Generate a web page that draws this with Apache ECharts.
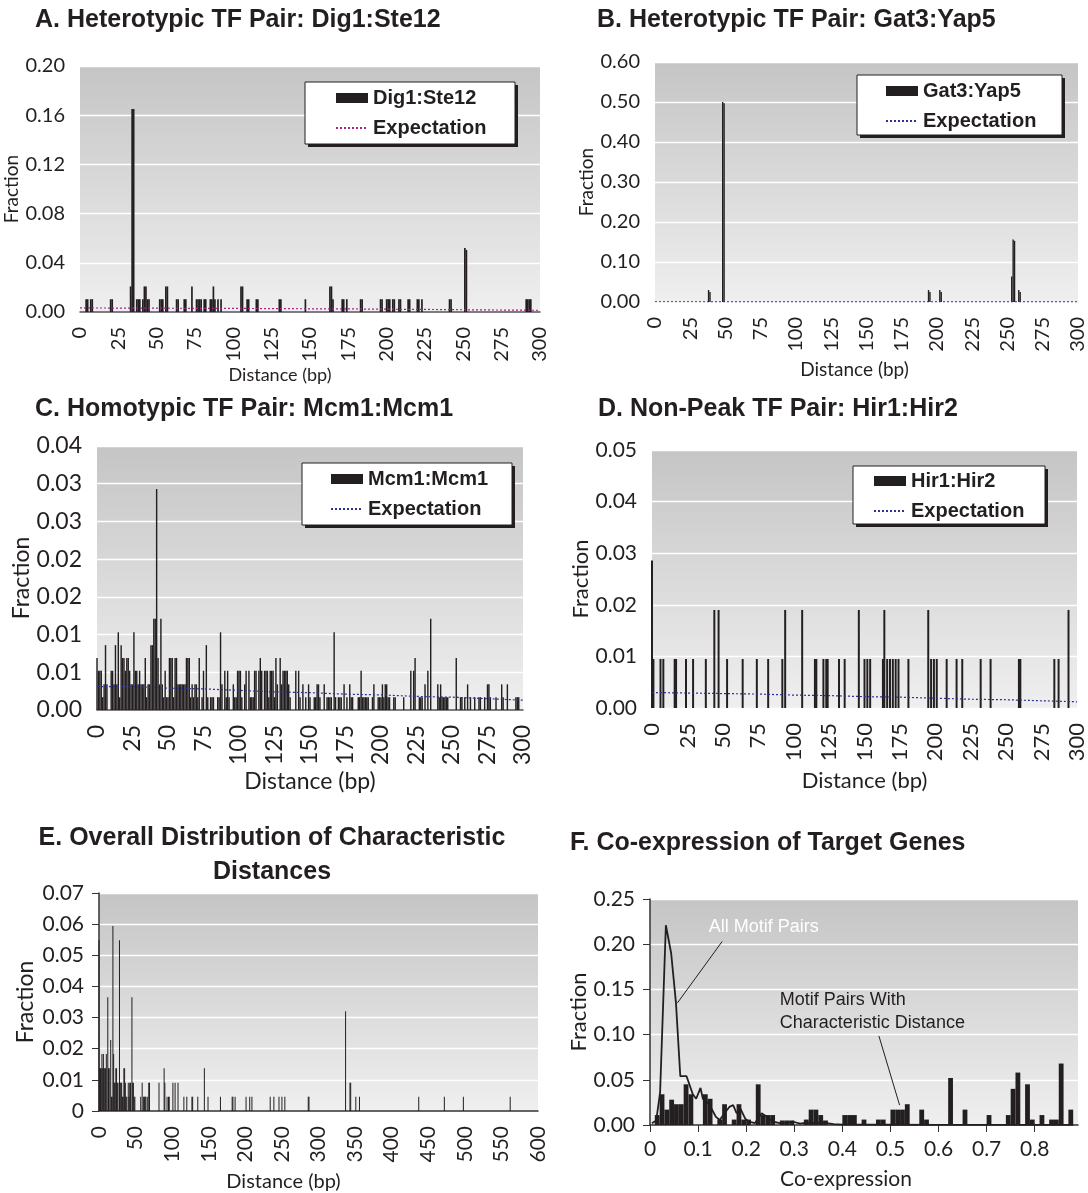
<!DOCTYPE html>
<html><head><meta charset="utf-8">
<script src="https://cdn.jsdelivr.net/npm/echarts@6/dist/echarts.min.js"></script>
<style>html,body{margin:0;padding:0;background:#fff}#c{width:1088px;height:1193px}</style>
</head><body><div id="c"></div>
<script>
// ---------- data ----------
const expX = [0,25,50,75,100,125,150,175,200,225,250,275,300];

const aDist = [4,5,7,8,20,21,33,34,35,37,38,39,41,42,43,44,45,52,53,54,56,57,63,64,68,69,73,76,77,78,79,81,82,85,86,87,88,90,92,105,106,109,110,115,116,130,131,147,163,164,165,171,172,174,183,184,196,197,200,201,202,204,205,208,209,214,215,220,221,223,241,242,251,252,291,292,293,294];
const aFrac = [0.0104,0.0104,0.0104,0.0104,0.0104,0.0104,0.0208,0.165,0.165,0.0104,0.0104,0.0104,0.0104,0.0208,0.0208,0.0104,0.0104,0.0104,0.0104,0.0104,0.0208,0.0208,0.0104,0.0104,0.0104,0.0104,0.0208,0.0104,0.0104,0.0104,0.0104,0.0104,0.0104,0.0104,0.0104,0.0208,0.0104,0.0104,0.0104,0.0208,0.0208,0.0104,0.0104,0.0104,0.0104,0.0104,0.0104,0.0104,0.0208,0.0208,0.0104,0.0104,0.0104,0.0104,0.0104,0.0104,0.0104,0.0104,0.0104,0.0104,0.0104,0.0104,0.0104,0.0104,0.0104,0.0104,0.0104,0.0104,0.0104,0.0104,0.0104,0.0104,0.0521,0.0505,0.0104,0.0104,0.0104,0.0104];
const expA = [0.0033,0.0032,0.0031,0.0030,0.0029,0.0028,0.0026,0.0025,0.0023,0.0021,0.0018,0.0016,0.0014];

const bDist = [38,39,48,49,194,195,202,203,253,254,255,258,259];
const bFrac = [0.030,0.025,0.500,0.497,0.030,0.025,0.030,0.025,0.064,0.156,0.153,0.030,0.025];
const expB = [0.0006,0.0006,0.0005,0.0005,0.0005,0.0004,0.0004,0.0004,0.0004,0.0003,0.0003,0.0003,0.0003];

const cDist = [0,1,2,3,4,5,6,7,10,11,12,13,14,15,16,17,18,19,20,21,22,23,24,25,26,27,28,29,30,31,32,33,34,35,36,37,38,39,40,41,42,43,44,45,46,47,48,49,50,51,52,53,54,55,56,57,58,59,60,61,62,63,64,65,66,67,68,69,70,71,72,74,75,77,78,80,81,82,85,86,87,88,90,91,92,93,96,97,98,99,100,101,102,104,105,107,108,109,110,111,112,114,115,116,118,119,120,121,122,123,124,125,126,127,129,130,131,132,133,134,135,136,140,142,143,145,147,149,150,153,154,155,156,157,160,162,163,164,165,167,168,170,171,172,174,176,178,179,180,184,185,186,187,188,189,190,191,194,195,198,199,200,201,202,203,204,205,206,209,210,216,221,223,224,227,228,229,231,233,235,240,241,242,243,244,245,246,247,253,256,257,259,261,263,266,269,270,273,275,276,277,281,285,286,289,295,296,297];
const cFrac = [0.0069,0.0052,0.0052,0.0052,0.0017,0.0034,0.0086,0.0034,0.0052,0.0052,0.0034,0.0086,0.0034,0.0103,0.0017,0.0086,0.0069,0.0069,0.0052,0.0069,0.0069,0.0052,0.0034,0.0034,0.0103,0.0052,0.0052,0.0034,0.0052,0.0034,0.0034,0.0034,0.0069,0.0017,0.0034,0.0034,0.0086,0.0086,0.0121,0.0121,0.0293,0.0069,0.0034,0.0121,0.0034,0.0017,0.0052,0.0017,0.0017,0.0069,0.0069,0.0069,0.0017,0.0069,0.0069,0.0034,0.0034,0.0034,0.0034,0.0034,0.0034,0.0069,0.0069,0.0069,0.0017,0.0034,0.0017,0.0034,0.0034,0.0017,0.0069,0.0017,0.0052,0.0086,0.0017,0.0017,0.0017,0.0017,0.0017,0.0017,0.0103,0.0034,0.0052,0.0017,0.0052,0.0017,0.0034,0.0017,0.0017,0.0052,0.0052,0.0052,0.0017,0.0034,0.0052,0.0052,0.0017,0.0017,0.0017,0.0052,0.0052,0.0052,0.0069,0.0052,0.0052,0.0052,0.0052,0.0017,0.0052,0.0052,0.0052,0.0017,0.0069,0.0034,0.0069,0.0034,0.0052,0.0052,0.0052,0.0052,0.0034,0.0017,0.0052,0.0052,0.0017,0.0034,0.0017,0.0034,0.0017,0.0017,0.0017,0.0034,0.0034,0.0017,0.0034,0.0017,0.0017,0.0017,0.0017,0.0103,0.0017,0.0017,0.0017,0.0017,0.0034,0.0017,0.0034,0.0017,0.0017,0.0017,0.0017,0.0052,0.0017,0.0017,0.0017,0.0017,0.0017,0.0017,0.0034,0.0017,0.0017,0.0017,0.0034,0.0017,0.0034,0.0034,0.0017,0.0017,0.0017,0.0017,0.0017,0.0052,0.0052,0.0069,0.0017,0.0017,0.0017,0.0034,0.0052,0.0121,0.0034,0.0017,0.0034,0.0017,0.0017,0.0017,0.0017,0.0017,0.0069,0.0017,0.0017,0.0017,0.0034,0.0017,0.0017,0.0017,0.0017,0.0017,0.0034,0.0034,0.0017,0.0017,0.0034,0.0017,0.0034,0.0017,0.0017,0.0017];
const expC = [0.0031,0.0031,0.0029,0.0028,0.0026,0.0024,0.0023,0.0021,0.0020,0.0018,0.0017,0.0015,0.0013];

const dDist = [0,1,6,8,16,17,24,29,38,44,47,53,64,74,82,92,94,106,115,116,121,123,124,132,136,146,150,152,154,163,164,166,168,170,172,174,181,195,197,199,201,208,215,219,232,239,259,260,284,287,294];
const dFrac = [0.0286,0.0095,0.0095,0.0095,0.0095,0.0095,0.0095,0.0095,0.0095,0.019,0.019,0.0095,0.0095,0.0095,0.0095,0.0095,0.019,0.019,0.0095,0.0095,0.0095,0.0095,0.0095,0.0095,0.0095,0.019,0.0095,0.0095,0.0095,0.0095,0.019,0.0095,0.0095,0.0095,0.0095,0.0095,0.0095,0.019,0.0095,0.0095,0.0095,0.0095,0.0095,0.0095,0.0095,0.0095,0.0095,0.0095,0.0095,0.0095,0.019];
const expD = [0.0030,0.0029,0.0028,0.0027,0.0025,0.0024,0.0022,0.0021,0.0019,0.0017,0.0016,0.0014,0.0012];

const eDist = [0,1,2,3,4,5,6,7,8,9,10,12,13,14,16,17,18,19,20,21,22,23,24,25,26,28,29,30,31,32,33,34,35,36,37,38,40,41,42,43,45,46,47,48,49,57,59,61,62,63,64,66,68,69,82,89,90,93,95,96,101,104,108,116,120,127,128,135,144,149,166,182,183,186,201,206,209,234,239,246,250,254,286,287,337,343,344,351,356,437,472,498,562];
const eFrac = [0.0548,0.0137,0.0137,0.0137,0.0183,0.0137,0.0183,0.0137,0.0137,0.0137,0.0183,0.0365,0.0137,0.0137,0.0228,0.0046,0.0046,0.0594,0.0183,0.0091,0.0091,0.0137,0.0137,0.0091,0.0091,0.0548,0.0091,0.0091,0.0091,0.0046,0.0046,0.0137,0.0137,0.0091,0.0046,0.0046,0.0091,0.0046,0.0091,0.0091,0.0365,0.0091,0.0091,0.0046,0.0046,0.0046,0.0091,0.0046,0.0046,0.0046,0.0046,0.0046,0.0091,0.0091,0.0091,0.0137,0.0091,0.0046,0.0046,0.0046,0.0091,0.0091,0.0091,0.0046,0.0046,0.0046,0.0046,0.0046,0.0137,0.0046,0.0046,0.0046,0.0046,0.0046,0.0046,0.0046,0.0046,0.0046,0.0046,0.0046,0.0046,0.0046,0.0046,0.0046,0.032,0.0091,0.0091,0.0046,0.0046,0.0046,0.0046,0.0046,0.0046];

const fBin = [0.015,0.025,0.035,0.045,0.055,0.065,0.075,0.085,0.115,0.125,0.145,0.155,0.175,0.185,0.195,0.205,0.225,0.235,0.245,0.255,0.275,0.285,0.295,0.325,0.335,0.345,0.355,0.365,0.405,0.415,0.425,0.445,0.475,0.485,0.505,0.515,0.525,0.535,0.565,0.575,0.625,0.655,0.705,0.745,0.755,0.765,0.785,0.795,0.815,0.835,0.845,0.855,0.875];
const fFrac = [0.011,0.034,0.017,0.028,0.023,0.023,0.045,0.034,0.034,0.029,0.006,0.023,0.006,0.023,0.006,0.006,0.045,0.011,0.011,0.011,0.005,0.005,0.005,0.006,0.017,0.017,0.011,0.005,0.011,0.011,0.011,0.006,0.006,0.006,0.017,0.017,0.017,0.023,0.017,0.006,0.052,0.017,0.011,0.011,0.040,0.058,0.045,0.006,0.011,0.006,0.006,0.068,0.017];
const allX = [0.004,0.013,0.021,0.033,0.044,0.054,0.063,0.076,0.089,0.096,0.105,0.110,0.121,0.128,0.137,0.145,0.155,0.165,0.173,0.180,0.188,0.198,0.206,0.218,0.232,0.243,0.256,0.270,0.284,0.298,0.312,0.326,0.340,0.360,0.382,0.400,0.500,0.600,0.700,0.800,0.880];
const allY = [0.002,0.005,0.036,0.221,0.190,0.135,0.054,0.054,0.034,0.029,0.041,0.029,0.024,0.018,0.009,0.0055,0.013,0.020,0.022,0.013,0.018,0.007,0.0036,0.002,0.013,0.009,0.0036,0.002,0.0026,0.0036,0.0015,0.0026,0.002,0.0026,0.001,0.0004,0.0003,0.0002,0.0002,0.0001,0.0001];

// ---------- style ----------
const INK = '#231f20';
const FT = 'Liberation Sans';
const FA = 'Lato';
const zip = (xs, ys) => xs.map((x, i) => [x, ys[i]]);
const bgGrad = () => new echarts.graphic.LinearGradient(0, 0, 0, 1, [
  {offset: 0, color: '#c5c5c5'}, {offset: 1, color: '#efefef'}]);

const grids = [
  {left: 80, top: 66, width: 460, height: 246},
  {left: 655, top: 62, width: 425, height: 240},
  {left: 97, top: 446, width: 426, height: 264},
  {left: 652, top: 450, width: 426, height: 258},
  {left: 99, top: 893, width: 439, height: 219},
  {left: 650, top: 899, width: 428, height: 226}
].map(g => Object.assign({show: true, backgroundColor: bgGrad(), borderWidth: 0, containLabel: false}, g));

const f2 = v => v.toFixed(2);
const fRound2 = v => (Math.round(v * 100 + 1e-6) / 100).toFixed(2);

function yAx(gi, max, interval, fmt, nameGap, fs, nfs, extra) {
  return Object.assign({
    type: 'value', gridIndex: gi, min: 0, max: max, interval: interval,
    name: 'Fraction', nameLocation: 'middle', nameGap: nameGap,
    nameTextStyle: {fontFamily: FA, fontSize: nfs, color: INK},
    axisLine: {show: false}, axisTick: {show: false},
    axisLabel: {fontFamily: FA, fontSize: fs, color: INK, margin: 15, formatter: fmt},
    splitLine: {show: true, lineStyle: {color: '#ffffff', width: 1.3}}
  }, extra || {});
}
function xAx(gi, max, interval, nameGap, fs, nfs, shift, extra) {
  return Object.assign({
    type: 'value', gridIndex: gi, min: 0, max: max, interval: interval,
    name: 'Distance (bp)', nameLocation: 'middle', nameGap: nameGap,
    nameTextStyle: {fontFamily: FA, fontSize: nfs, color: INK, padding: [0, shift, 0, 0]},
    axisLine: {show: true, onZero: false, lineStyle: {color: '#555555', width: 1.5}},
    axisTick: {show: false},
    axisLabel: {rotate: 90, fontFamily: FA, fontSize: fs, color: INK, margin: 15},
    splitLine: {show: false}
  }, extra || {});
}
function barS(gi, name, data, bw) {
  return {type: 'bar', name: name, xAxisIndex: gi, yAxisIndex: gi, data: data,
    barWidth: bw, itemStyle: {color: INK}, silent: true, z: 3};
}
function expS(gi, name, ys, color) {
  return {type: 'line', name: name, xAxisIndex: gi, yAxisIndex: gi, data: zip(expX, ys),
    symbol: 'none', silent: true, z: 4, itemStyle: {color: color},
    lineStyle: {color: color, width: 1.2, type: [2, 2]}};
}
function legend(left, top, barName, expName) {
  return {
    left: left, top: top, orient: 'vertical', selectedMode: false, z: 60,
    data: [{name: barName, icon: 'rect'}, {name: expName, itemStyle: {opacity: 0}}],
    formatter: n => n.indexOf('Exp') === 0 ? 'Expectation' : n,
    backgroundColor: 'transparent', borderWidth: 0,
    padding: [6, 26, 6, 30], itemGap: 10, itemWidth: 32, itemHeight: 10,
    textStyle: {fontFamily: FT, fontWeight: 'bold', fontSize: 20, color: INK}
  };
}
// legend frames (white box with solid offset shadow)
function frame(x, y, w, h) {
  return [
    {type: 'rect', z: 50, silent: true, shape: {x: x + 3, y: y + 3, width: w, height: h}, style: {fill: INK}},
    {type: 'rect', z: 51, silent: true, shape: {x: x, y: y, width: w, height: h}, style: {fill: '#ffffff', stroke: INK, lineWidth: 1}}
  ];
}
const titleStyle = {fontFamily: FT, fontWeight: 'bold', fontSize: 25, color: INK, lineHeight: 34};

const MAG = '#a3238e', NAVY = '#2e3192';
const darkLine = {show: true, onZero: false, lineStyle: {color: '#333333', width: 1.5}};
const outTick = {show: true, length: 7, lineStyle: {color: '#333333'}};

const option = {
  animation: false,
  backgroundColor: '#ffffff',
  title: [
    {text: 'A. Heterotypic TF Pair: Dig1:Ste12', left: 35, top: 3, padding: 0, textStyle: titleStyle},
    {text: 'B. Heterotypic TF Pair: Gat3:Yap5', left: 597, top: 3, padding: 0, textStyle: titleStyle},
    {text: 'C. Homotypic TF Pair: Mcm1:Mcm1', left: 35, top: 392, padding: 0, textStyle: titleStyle},
    {text: 'D. Non-Peak TF Pair: Hir1:Hir2', left: 598, top: 392, padding: 0, textStyle: titleStyle},
    {text: 'E. Overall Distribution of Characteristic\nDistances', left: 272, top: 821, padding: 0, textAlign: 'center', textStyle: titleStyle},
    {text: 'F. Co-expression of Target Genes', left: 570, top: 826, padding: 0, textStyle: titleStyle}
  ],
  graphic: [].concat(
    frame(305, 82, 210, 62),
    frame(857, 75, 205, 60),
    frame(302, 463, 210, 62),
    frame(853, 466, 192, 58)
  ),
  legend: [
    legend(305, 82, 'Dig1:Ste12', 'ExpA'),
    legend(855, 75, 'Gat3:Yap5', 'ExpB'),
    legend(300, 463, 'Mcm1:Mcm1', 'ExpC'),
    legend(843, 465, 'Hir1:Hir2', 'ExpD')
  ],
  grid: grids,
  xAxis: [
    xAx(0, 300, 25, 42, 20, 18, 60),
    xAx(1, 300, 25, 58, 20, 19, 24, {axisLine: {show: false}}),
    xAx(2, 300, 25, 60, 23, 23, 0),
    xAx(3, 300, 25, 62, 22, 22, 0, {axisLine: {show: false}}),
    xAx(4, 600, 50, 61, 21, 20, 70, {axisLine: darkLine}),
    {
      type: 'value', gridIndex: 5, min: 0, max: 0.89, interval: 0.1,
      name: 'Co-expression', nameLocation: 'middle', nameGap: 44,
      nameTextStyle: {fontFamily: FA, fontSize: 21, color: INK, padding: [0, 36, 0, 0]},
      axisLine: darkLine, axisTick: outTick,
      axisLabel: {fontFamily: FA, fontSize: 21, color: INK, margin: 14, showMaxLabel: false,
        formatter: v => v === 0 ? '0' : v.toFixed(1)},
      splitLine: {show: false}
    }
  ],
  yAxis: [
    yAx(0, 0.20, 0.04, f2, 54, 20, 19),
    yAx(1, 0.60, 0.10, f2, 59, 20, 19),
    yAx(2, 0.035, 0.005, fRound2, 61, 23, 23),
    yAx(3, 0.05, 0.01, f2, 57, 21, 22),
    yAx(4, 0.07, 0.01, v => v === 0 ? '0' : v.toFixed(2), 62, 21, 23, {axisLine: darkLine, axisTick: outTick}),
    yAx(5, 0.25, 0.05, f2, 60, 21, 22, {axisLine: darkLine, axisTick: outTick})
  ],
  series: [
    barS(0, 'Dig1:Ste12', zip(aDist, aFrac), '110%'),
    expS(0, 'ExpA', expA, MAG),
    barS(1, 'Gat3:Yap5', zip(bDist, bFrac), '100%'),
    expS(1, 'ExpB', expB, NAVY),
    barS(2, 'Mcm1:Mcm1', zip(cDist, cFrac), '100%'),
    expS(2, 'ExpC', expC, NAVY),
    barS(3, 'Hir1:Hir2', zip(dDist, dFrac), '140%'),
    expS(3, 'ExpD', expD, NAVY),
    barS(4, 'Overall', zip(eDist, eFrac), '130%'),
    barS(5, 'Characteristic', zip(fBin, fFrac), '100%'),
    {
      type: 'line', name: 'All Motif Pairs', xAxisIndex: 5, yAxisIndex: 5,
      data: zip(allX, allY), symbol: 'none', silent: true, z: 5,
      lineStyle: {color: INK, width: 1.8},
      markLine: {
        silent: true, symbol: 'none', animation: false,
        lineStyle: {color: INK, width: 1, type: 'solid'}, label: {show: false},
        data: [
          [{coord: [0.150, 0.203]}, {coord: [0.057, 0.135]}],
          [{coord: [0.476, 0.0985]}, {coord: [0.519, 0.022]}]
        ]
      },
      markPoint: {
        silent: true, symbol: 'circle', symbolSize: 0, animation: false,
        data: [
          {coord: [0.122, 0.219], label: {show: true, position: 'right', distance: 0, formatter: 'All Motif Pairs',
            color: '#ffffff', fontFamily: FT, fontSize: 18}},
          {coord: [0.270, 0.126], label: {show: true, position: 'right', distance: 0,
            formatter: 'Motif Pairs With\nCharacteristic Distance', color: INK, fontFamily: FT, fontSize: 18, lineHeight: 23}}
        ]
      }
    }
  ]
};

const chart = echarts.init(document.getElementById('c'), null, {renderer: 'canvas'});
chart.setOption(option);
</script>
</body></html>
